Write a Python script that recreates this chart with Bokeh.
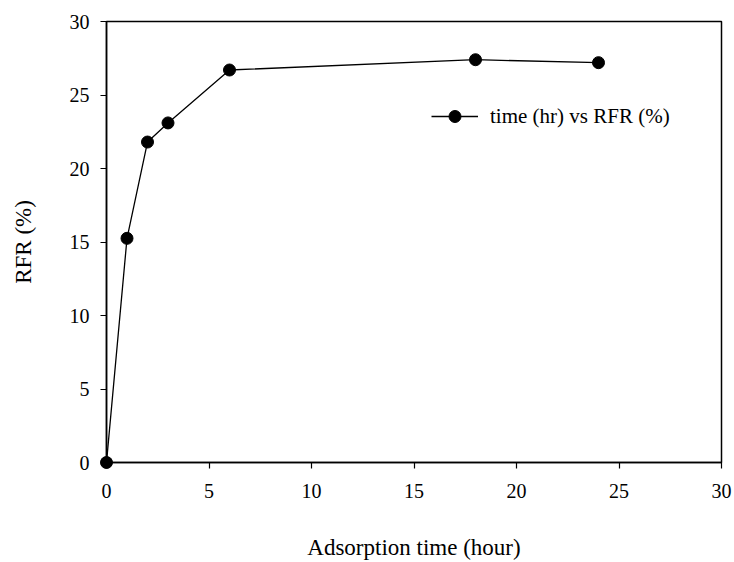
from bokeh.plotting import figure
from bokeh.models import Range1d, FixedTicker, Legend, LegendItem
from bokeh.embed import file_html
from bokeh.resources import INLINE

time_hr = [0, 1, 2, 3, 6, 18, 24]
rfr_pct = [0, 15.25, 21.8, 23.1, 26.7, 27.4, 27.2]
x_ticks = [0, 5, 10, 15, 20, 25, 30]
y_ticks = [0, 5, 10, 15, 20, 25, 30]

FONT = "Liberation Serif"

p = figure(width=734, height=562, output_backend="svg", toolbar_location=None,
           x_range=Range1d(0, 30), y_range=Range1d(0, 30),
           min_border_left=106, min_border_right=13, min_border_top=21, min_border_bottom=99)

p.grid.visible = False
p.outline_line_color = "black"
p.outline_line_width = 1.5
p.background_fill_color = "white"
p.border_fill_color = "white"

line_r = p.line(time_hr, rfr_pct, line_color="black", line_width=1.3)
pts_r = p.scatter(time_hr, rfr_pct, size=12, fill_color="black", line_color="black", level="overlay")

for ax in (p.xaxis[0], p.yaxis[0]):
    ax.ticker = FixedTicker(ticks=x_ticks if ax is p.xaxis[0] else y_ticks)
    ax.axis_line_color = "black"
    ax.axis_line_width = 1.5
    ax.major_tick_in = 0
    ax.major_tick_out = 6
    ax.major_tick_line_width = 1.2
    ax.minor_tick_line_color = None
    ax.major_label_text_font = FONT
    ax.major_label_text_font_size = "20px"
    ax.major_label_text_color = "black"
    ax.axis_label_text_font = FONT
    ax.axis_label_text_font_size = "23px"
    ax.axis_label_text_font_style = "normal"
    ax.axis_label_text_color = "black"

p.xaxis.axis_label = "Adsorption time (hour)"
p.yaxis.axis_label = "RFR (%)"
p.xaxis.major_label_standoff = 15
p.xaxis.axis_label_standoff = 34
p.yaxis.major_label_standoff = 11
p.yaxis.axis_label_standoff = 31

legend = Legend(items=[LegendItem(label="time (hr) vs RFR (%)", renderers=[line_r, pts_r])],
                location=(325, 331), orientation="vertical")
legend.border_line_color = None
legend.background_fill_alpha = 0
legend.padding = 0
legend.margin = 0
legend.glyph_width = 47
legend.glyph_height = 30
legend.label_standoff = 12
legend.label_text_font = FONT
legend.label_text_font_size = "21px"
legend.label_text_color = "black"
p.add_layout(legend, "center")

open("out.html", "w").write(file_html(p, INLINE))
